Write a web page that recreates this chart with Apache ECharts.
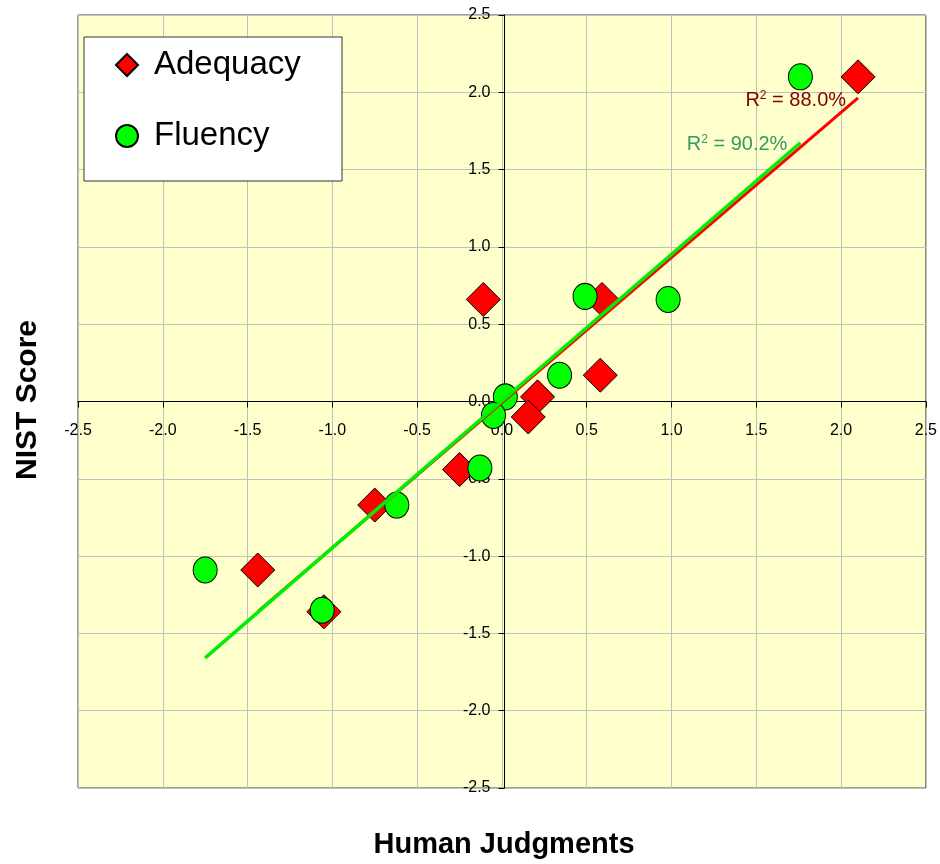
<!DOCTYPE html>
<html>
<head>
<meta charset="utf-8">
<script src="https://cdn.jsdelivr.net/npm/echarts@6/dist/echarts.min.js"></script>
<style>
  html, body { margin: 0; padding: 0; background: #fff; }
  #chart { width: 940px; height: 864px; }
</style>
</head>
<body>
<div id="chart"></div>
<script>
// data
const adequacyX = [2.10, 0.59, -0.11, 0.58, 0.21, 0.155, -0.25, -0.75, -1.44, -1.05];
const adequacyY = [2.10, 0.66, 0.66, 0.17, 0.03, -0.10, -0.44, -0.67, -1.09, -1.36];
const fluencyX = [1.76, 0.49, 0.98, 0.34, 0.02, -0.05, -0.13, -0.62, -1.75, -1.06];
const fluencyY = [2.10, 0.68, 0.66, 0.17, 0.03, -0.09, -0.43, -0.67, -1.09, -1.35];
const seriesNames = ['Adequacy', 'Fluency'];
const r2Labels = ['88.0%', '90.2%'];
const axisMin = -2.5;
const axisMax = 2.5;
const axisStep = 0.5;

const FONT = '"Liberation Sans", Arial, sans-serif';
const W = 940, H = 864;
const G = { left: 78, right: 9, top: 15, bottom: 76 };

// least squares line through the points, drawn from smallest to largest x
function trendLine(xs, ys) {
    const n = xs.length;
    const mx = xs.reduce((a, b) => a + b, 0) / n;
    const my = ys.reduce((a, b) => a + b, 0) / n;
    let sxy = 0, sxx = 0;
    for (let i = 0; i < n; i++) {
        sxy += (xs[i] - mx) * (ys[i] - my);
        sxx += (xs[i] - mx) * (xs[i] - mx);
    }
    const slope = sxy / sxx;
    const icpt = my - slope * mx;
    const x0 = Math.min(...xs);
    const x1 = Math.max(...xs);
    return [[x0, icpt + slope * x0], [x1, icpt + slope * x1]];
}

function pairs(xs, ys) {
    return xs.map((x, i) => [x, ys[i]]);
}

function r2Rich(color) {
    return {
        r: { fontSize: 20, fontFamily: FONT, color: color, lineHeight: 22 },
        s: { fontSize: 12, fontFamily: FONT, color: color, lineHeight: 12, verticalAlign: 'top' }
    };
}

function lineSeries(xs, ys, color, textColor, width, label, dist, off, z) {
    const pts = trendLine(xs, ys);
    return {
        type: 'line',
        data: [
            pts[0],
            {
                value: pts[1],
                label: {
                    show: true,
                    position: 'left',
                    distance: dist,
                    offset: off,
                    formatter: '{r|R}{s|2}{r| = ' + label + '}',
                    rich: r2Rich(textColor)
                }
            }
        ],
        symbol: 'circle',
        symbolSize: 0,
        showSymbol: true,
        lineStyle: { color: color, width: width },
        itemStyle: { color: color },
        silent: true,
        z: z
    };
}

const chart = echarts.init(document.getElementById('chart'));

// axes cross in the middle of the plot, where both values are 0
const plotW = W - G.left - G.right;
const plotH = H - G.top - G.bottom;

const axisCommon = {
    type: 'value',
    min: axisMin,
    max: axisMax,
    interval: axisStep,
    axisLine: { onZero: false, lineStyle: { color: '#000', width: 1 } },
    axisTick: { show: true, length: 6, lineStyle: { color: '#000' } },
    splitLine: { show: true, lineStyle: { color: '#c0c0c0', width: 1 } },
    axisLabel: {
        showMinLabel: true,
        showMaxLabel: true,
        fontSize: 16,
        fontFamily: FONT,
        color: '#000',
        formatter: v => v.toFixed(1)
    }
};

const option = {
    backgroundColor: '#fff',
    animation: false,
    grid: {
        left: G.left, right: G.right, top: G.top, bottom: G.bottom,
        show: true,
        backgroundColor: '#ffffcc',
        borderColor: '#404040',
        borderWidth: 1
    },
    xAxis: Object.assign({}, axisCommon, {
        offset: -plotH / 2,
        axisLabel: Object.assign({}, axisCommon.axisLabel, { margin: 21 })
    }),
    yAxis: Object.assign({}, axisCommon, {
        offset: -plotW / 2,
        axisLabel: Object.assign({}, axisCommon.axisLabel, { margin: 14 })
    }),
    legend: {
        orient: 'vertical',
        left: 84,
        top: 37,
        padding: [10, 38, 27, 31],
        itemGap: 35,
        itemWidth: 22,
        itemHeight: 22,
        backgroundColor: '#fff',
        borderColor: '#333',
        borderWidth: 1,
        selectedMode: false,
        data: [
            { name: seriesNames[0], icon: 'diamond' },
            { name: seriesNames[1], icon: 'circle' }
        ],
        textStyle: {
            fontSize: 33,
            fontFamily: FONT,
            color: '#000',
            lineHeight: 36,
            width: 150,
            padding: [0, 0, 0, 11]
        }
    },
    graphic: [
        {
            type: 'text',
            x: 504,
            y: 845,
            style: {
                text: 'Human Judgments',
                fontSize: 29,
                fontWeight: 'bold',
                fontFamily: FONT,
                fill: '#000',
                align: 'center',
                verticalAlign: 'middle'
            }
        },
        {
            type: 'text',
            x: 28,
            y: 400,
            rotation: Math.PI / 2,
            style: {
                text: 'NIST Score',
                fontSize: 30,
                fontWeight: 'bold',
                fontFamily: FONT,
                fill: '#000',
                align: 'center',
                verticalAlign: 'middle'
            }
        }
    ],
    series: [
        {
            name: seriesNames[0],
            type: 'scatter',
            symbol: 'diamond',
            symbolSize: 34,
            data: pairs(adequacyX, adequacyY),
            itemStyle: { color: '#ff0000', borderColor: '#000', borderWidth: 1, opacity: 1 },
            z: 2
        },
        {
            name: seriesNames[1],
            type: 'scatter',
            symbol: 'circle',
            symbolSize: [24, 26],
            data: pairs(fluencyX, fluencyY),
            itemStyle: { color: '#00ff00', borderColor: '#000', borderWidth: 1, opacity: 1 },
            z: 3
        },
        lineSeries(adequacyX, adequacyY, '#ff0000', '#800000', 3, r2Labels[0], 12, [0, 3], 4),
        lineSeries(fluencyX, fluencyY, '#00ee00', '#339966', 3.5, r2Labels[1], 13, [0, 2], 5)
    ]
};

chart.setOption(option);

window.addEventListener('resize', function() {
    chart.resize();
});
</script>
</body>
</html>
